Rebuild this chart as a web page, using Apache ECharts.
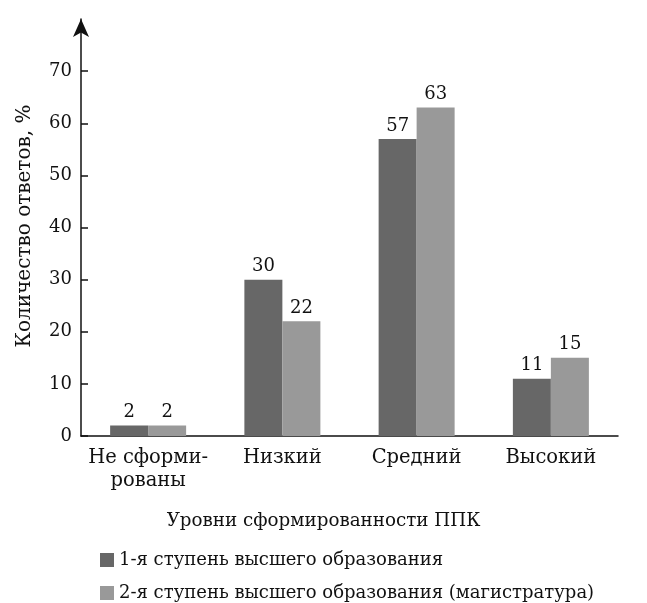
<!DOCTYPE html>
<html>
<head>
<meta charset="utf-8">
<script src="https://cdn.jsdelivr.net/npm/echarts@6/dist/echarts.min.js"></script>
<style>
    html, body { margin: 0; padding: 0; background: #fff; }
    #chart { width: 647px; height: 603px; }
</style>
</head>
<body>
<div id="chart"></div>
<script>
    // данные с рисунка
    var categories = ['Не сформи-\nрованы', 'Низкий', 'Средний', 'Высокий'];
    var seriesNames = ['1-я ступень высшего образования', '2-я ступень высшего образования (магистратура)'];
    var stage1 = [2, 30, 57, 11];
    var stage2 = [2, 22, 63, 15];
    var yTicks = [0, 10, 20, 30, 40, 50, 60, 70];

    var font = 'DejaVu Serif';
    var ink = '#111111';

    function legendRow(name, top) {
        return {
            orient: 'vertical',
            left: 95,
            top: top,
            icon: 'rect',
            itemWidth: 14,
            itemHeight: 14,
            itemGap: 9,
            textStyle: { fontFamily: font, fontSize: 18, color: ink },
            data: [name]
        };
    }

    var myChart = echarts.init(document.getElementById('chart'));
    var option = {
        animation: false,
        textStyle: { fontFamily: font, color: ink },
        grid: { left: 81, right: 29, top: 19, bottom: 167 },
        legend: [
            legendRow(seriesNames[0], 546),
            legendRow(seriesNames[1], 579)
        ],
        xAxis: {
            type: 'category',
            data: categories,
            axisLine: { lineStyle: { color: ink, width: 1.5 } },
            axisTick: { inside: true, length: 6, lineStyle: { color: ink, width: 1.5 } },
            axisLabel: { fontFamily: font, fontSize: 19.5, color: ink, margin: 10, lineHeight: 23, interval: 0 }
        },
        yAxis: {
            type: 'value',
            min: 0,
            max: 80,
            interval: 10,
            splitLine: { show: false },
            axisLine: {
                show: true,
                symbol: ['none', 'arrow'],
                symbolSize: [12, 18],
                lineStyle: { color: ink, width: 1.5 }
            },
            axisTick: { show: true, inside: true, length: 7, customValues: yTicks, lineStyle: { color: ink, width: 1.5 } },
            axisLabel: { fontFamily: font, fontSize: 18, color: ink, margin: 9, customValues: yTicks }
        },
        graphic: [
            {
                type: 'text',
                left: 'center',
                top: 512,
                style: { text: 'Уровни сформированности ППК', fontFamily: font, fontSize: 18.3, fill: ink },
                x: -8
            },
            {
                type: 'text',
                x: 25,
                y: 226,
                rotation: Math.PI / 2,
                style: {
                    text: 'Количество ответов, %',
                    fontFamily: font, fontSize: 20, fill: ink,
                    align: 'center', verticalAlign: 'middle'
                }
            }
        ],
        series: [
            {
                name: seriesNames[0],
                type: 'bar',
                data: stage1,
                barWidth: 38,
                barGap: '0%',
                itemStyle: { color: '#676767' },
                label: { show: true, position: 'top', distance: 4, fontFamily: font, fontSize: 18, color: ink }
            },
            {
                name: seriesNames[1],
                type: 'bar',
                data: stage2,
                barWidth: 38,
                barGap: '0%',
                itemStyle: { color: '#999999' },
                label: { show: true, position: 'top', distance: 4, fontFamily: font, fontSize: 18, color: ink }
            }
        ]
    };
    myChart.setOption(option);
</script>
</body>
</html>
